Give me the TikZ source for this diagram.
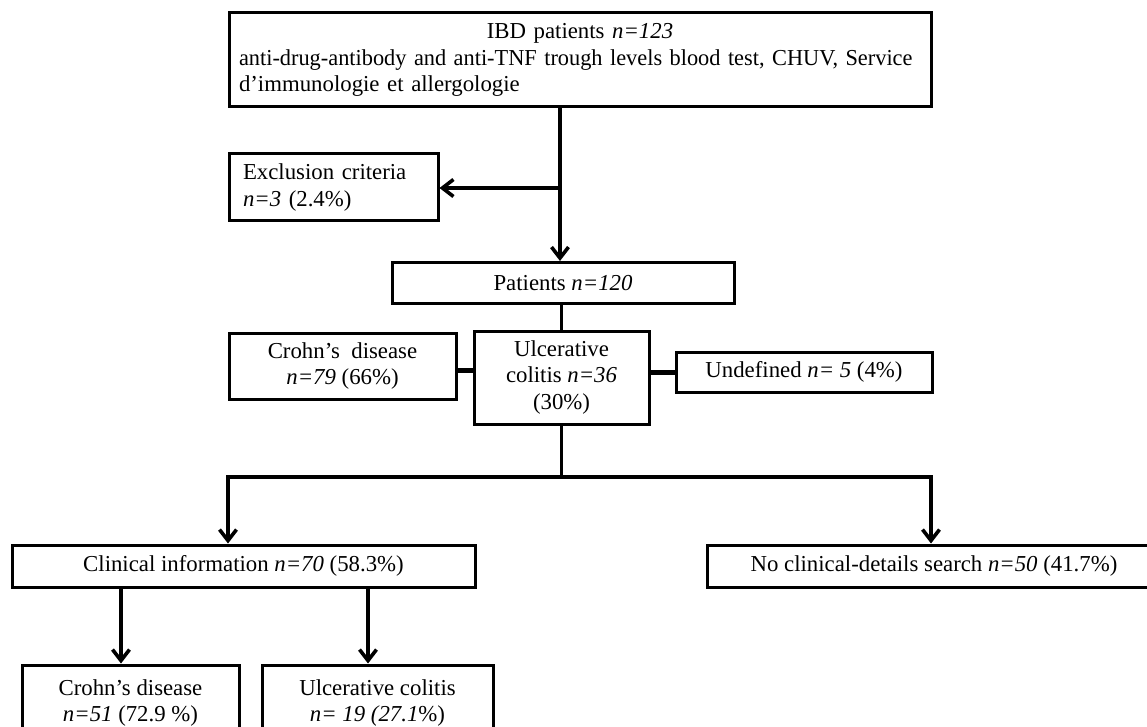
\documentclass[tikz,border=0pt]{standalone}
\usepackage{graphicx}
\usepackage{fontspec}
\setmainfont{Liberation Serif}
\usetikzlibrary{arrows.meta}
\begin{document}
\begin{tikzpicture}[x=1pt,y=-1pt,
  box/.style={draw=black, line width=3pt, rectangle, inner sep=0pt,
    font=\fontsize{22.8}{26.5}\selectfont, align=center},
  conn/.style={line width=3.6pt, line join=miter},
  thickconn/.style={line width=5pt},
  arr/.style={conn, -{Straight Barb[length=11pt,width=17pt,line width=3.6pt]}}]
\useasboundingbox (0,0) rectangle (1147,727);
\fill[white] (0,0) rectangle (1147,727);

\node[box, minimum width=702pt, minimum height=94pt, text width=682pt, align=left] (top) at (580,60)
  {\makebox[682pt]{IBD patients \textit{n=123}}\\\makebox[682pt][l]{\scalebox{0.98}[1]{anti-drug-antibody and anti-TNF trough levels blood test, CHUV, Service}}\\d’immunologie et allergologie};
\node[box, minimum width=209pt, minimum height=67pt, text width=181pt, align=left] (excl) at (333.5,187.5)
  {Exclusion criteria\\\textit{n=3} (2.4\%)};
\node[box, minimum width=342pt, minimum height=41pt] (pat) at (563,283) {Patients \textit{n=120}};
\node[box, minimum width=227pt, minimum height=66pt] (crohn) at (342.5,366) {Crohn’s\ \ disease\\\textit{n=79} (66\%)};
\node[box, minimum width=175pt, minimum height=93pt] (uc) at (561.5,377.5) {Ulcerative\\colitis \textit{n=36}\\(30\%)};
\node[box, minimum width=256pt, minimum height=40pt] (undef) at (804,372) {Undefined \textit{n= 5} (4\%)};
\node[box, minimum width=463pt, minimum height=42pt] (clin) at (243.5,566) {Clinical information \textit{n=70} (58.3\%)};
\node[box, minimum width=454pt, minimum height=42pt] (noclin) at (934,566) {No clinical-details search \textit{n=50} (41.7\%)};
\node[box, minimum width=217pt, minimum height=76pt] (crohn2) at (130.5,703) {Crohn’s disease\\\textit{n=51} (72.9 \%)};
\node[box, minimum width=231pt, minimum height=76pt] (uc2) at (377.5,703) {Ulcerative colitis\\\textit{n= 19 (27.1}\%)};

\coordinate (jx) at (560,188);
\draw[arr] (top.south -| jx) -- (pat.north -| jx);
\draw[arr] (jx) -- (excl.east |- jx);

\draw[conn] (pat.south -| uc.north) -- (uc.north);
\draw[thickconn] ([yshift=-4pt]crohn.east) -- ([yshift=-4pt]crohn.east -| uc.west);
\draw[thickconn] (uc.east |- undef.west) -- (undef.west);

\coordinate (jb) at (561.5,477);
\coordinate (jl) at (228,477);
\coordinate (jr) at (931,477);
\draw[conn] (uc.south) -- (jb);
\draw[arr] (jb) -- (jl) -- (clin.north -| jl);
\draw[arr] (jb) -- (jr) -- (noclin.north -| jr);

\coordinate (a1) at (121,620);
\coordinate (a2) at (368,620);
\draw[arr] (clin.south -| a1) -- (crohn2.north -| a1);
\draw[arr] (clin.south -| a2) -- (uc2.north -| a2);
\end{tikzpicture}
\end{document}
